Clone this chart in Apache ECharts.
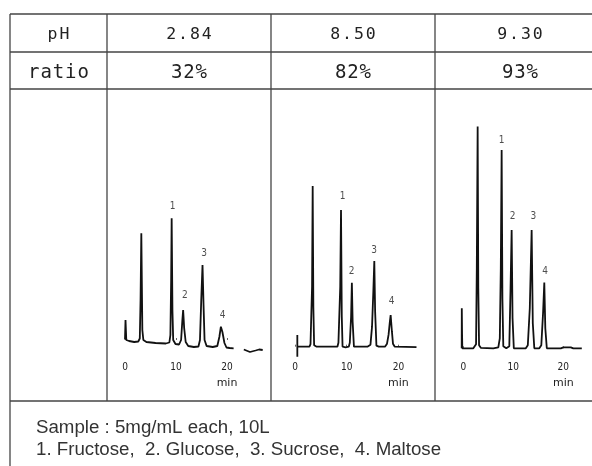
<!DOCTYPE html>
<html>
<head>
<meta charset="utf-8">
<script src="https://cdn.jsdelivr.net/npm/echarts@6/dist/echarts.min.js"></script>
<style>
html, body { margin: 0; background: #fff; }
#wrap { position: relative; width: 592px; height: 466px; overflow: hidden; }
#main { position: absolute; left: 0; top: 0; width: 592px; height: 466px; }
.cell { position: absolute; text-align: center; white-space: nowrap; color: #222;
        font-family: "DejaVu Sans Mono", monospace; }
</style>
</head>
<body>
<div id="wrap"><div id="main"></div></div>
<script>
// table texts
var rowLabels = ['pH', 'ratio'];
var phValues = ['2.84', '8.50', '9.30'];
var ratioValues = ['32%', '82%', '93%'];
var sampleLines = ['Sample : 5mg/mL each, 10L', '1. Fructose,  2. Glucose,  3. Sucrose,  4. Maltose'];
var tickValues = [0, 10, 20];

// chromatogram traces, [time (min), signal]
var trace1 = [
    [0, 0.5], [0.1, 20], [0.25, 0], [0.8, -1], [1.8, -2], [2.6, -1.5], [2.9, 1.5], [3.05, 40],
    [3.2, 106.7], [3.4, 10], [3.6, 0], [4.2, -2], [6, -3], [8, -3.5], [8.7, -2.5], [8.9, 5],
    [9.05, 60], [9.15, 121.7], [9.3, 30], [9.45, 0], [9.9, -4], [10.6, -4.5], [11.0, 0], [11.25, 20],
    [11.4, 30], [11.6, 12], [11.9, -2], [12.4, -6], [13.5, -7], [14.4, -6.5], [14.7, 0], [14.95, 40],
    [15.2, 75], [15.4, 35], [15.6, 0], [16, -6], [17.2, -7], [18.1, -6], [18.5, 3], [18.8, 13.3],
    [19.1, 8], [19.5, -3], [19.9, -7.5], [20.5, -8], [21.3, -8.3], [21.7, '-'],
    [23.3, -9.5], [24.5, -12], [25.6, -10.5], [26.3, -9.5], [27, -10]
];
var trace2 = [
    [0.45, -10], [0.45, 11.7], [0.45, 0], [2.8, 0], [3.0, 2.5], [3.2, 2], [3.3, 60], [3.42, 160.7],
    [3.55, 40], [3.7, 1.5], [4.2, 0], [7, 0], [8.2, 0], [8.4, 4], [8.6, 5], [8.75, 60], [8.9, 136.7],
    [9.05, 30], [9.2, 0], [9.8, -0.7], [10.4, 0], [10.6, 4], [10.85, 30], [11.0, 64], [11.15, 25],
    [11.4, 0], [12, 0], [14, 0], [14.6, 2], [14.9, 20], [15.15, 55], [15.34, 85.7], [15.5, 35],
    [15.75, 1], [16.2, 0], [17.4, 0], [17.8, 3], [18.1, 12], [18.35, 25], [18.5, 31.7], [18.75, 15],
    [18.95, 3], [19.3, 0], [23.5, -0.5]
];
var trace3 = [
    [-0.32, 0], [-0.3, 40], [-0.25, 15], [-0.2, 0], [2.0, 0], [2.4, 1], [2.55, 4], [2.7, 80],
    [2.87, 221.7], [3.0, 60], [3.15, 3], [3.5, 0.5], [6.0, 0], [7.0, 1], [7.3, 10], [7.5, 80],
    [7.67, 198.3], [7.82, 50], [8.0, 2], [8.6, 0], [9.2, 2], [9.45, 60], [9.67, 118.3], [9.85, 30],
    [10.1, 0], [12.5, 0], [12.9, 3], [13.3, 40], [13.67, 118.3], [13.9, 25], [14.2, 0], [15.2, 0],
    [15.6, 3], [15.95, 35], [16.2, 65.7], [16.4, 20], [16.7, 0], [19.5, 0], [20, 1], [21.5, 1],
    [22, 0], [23.7, 0]
];

// peak numbers, [time, signal, label]
var peakLabels1 = [[9.35, 133.3, '1'], [11.76, 45, '2'], [15.5, 86.7, '3'], [19.15, 25, '4']];
var peakLabels2 = [[9.2, 150, '1'], [10.97, 75, '2'], [15.3, 96.7, '3'], [18.7, 45, '4']];
var peakLabels3 = [[7.68, 208.3, '1'], [9.88, 131.6, '2'], [14.0, 131.6, '3'], [16.34, 76.6, '4']];

// layout
var colX = [10, 107, 271, 435, 605];
var rowY = [14, 52, 89, 401];
var plotBottom = 358;
var yTop = 230;
var panels = [
    { trace: trace1, labels: peakLabels1, t0x: 125, pxPerMin: 5.1, xMin: -1, xMax: 28, baseY: 340 },
    { trace: trace2, labels: peakLabels2, t0x: 295, pxPerMin: 5.17, xMin: -1, xMax: 25, baseY: 346.7 },
    { trace: trace3, labels: peakLabels3, t0x: 463.3, pxPerMin: 5.0, xMin: -1, xMax: 24.5, baseY: 348.3 }
];

// header cells as html (needs letter spacing)
var wrap = document.getElementById('wrap');
function addCell(text, cx, cy, size, spacing) {
    var d = document.createElement('div');
    d.className = 'cell';
    d.textContent = text;
    d.style.left = (cx - 70) + 'px';
    d.style.width = '140px';
    d.style.top = (cy - 15) + 'px';
    d.style.height = '30px';
    d.style.lineHeight = '30px';
    d.style.fontSize = size + 'px';
    d.style.letterSpacing = spacing + 'px';
    d.style.paddingLeft = spacing + 'px';
    d.style.boxSizing = 'border-box';
    wrap.appendChild(d);
}
var rowCentres = [(rowY[0] + rowY[1]) / 2 + 1, (rowY[1] + rowY[2]) / 2];
var rows = [[rowLabels[0]].concat(phValues), [rowLabels[1]].concat(ratioValues)];
rows.forEach(function (row, r) {
    row.forEach(function (txt, c) {
        var cx = (colX[c] + colX[c + 1]) / 2;
        if (r === 0) addCell(txt, cx, rowCentres[r], 16.5, 1.9);
        else addCell(txt, cx, rowCentres[r], 19, 0.9);
    });
});

// table rules
var lineStyle = { stroke: '#444', lineWidth: 1.3 };
var elements = [];
rowY.forEach(function (y) {
    elements.push({ type: 'line', silent: true, shape: { x1: colX[0], y1: y, x2: 592, y2: y }, style: lineStyle });
});
elements.push({ type: 'line', silent: true, shape: { x1: colX[0], y1: rowY[0], x2: colX[0], y2: 466 }, style: lineStyle });
for (var i = 1; i < 4; i++) {
    elements.push({ type: 'line', silent: true, shape: { x1: colX[i], y1: rowY[0], x2: colX[i], y2: rowY[3] }, style: lineStyle });
}
sampleLines.forEach(function (txt, i) {
    elements.push({
        type: 'text', silent: true, x: 36, y: 428 + i * 22,
        style: { text: txt, font: '18.7px "Liberation Sans", Arial, sans-serif', fill: '#333',
                 verticalAlign: 'middle', textVerticalAlign: 'middle' }
    });
});

var grids = [], xAxes = [], yAxes = [], series = [];
panels.forEach(function (p, i) {
    var top = p.baseY - yTop;
    grids.push({
        left: p.t0x + p.xMin * p.pxPerMin,
        width: (p.xMax - p.xMin) * p.pxPerMin,
        top: top,
        height: plotBottom - top
    });
    xAxes.push({
        type: 'value', gridIndex: i, min: p.xMin, max: p.xMax,
        axisLine: { show: false },
        splitLine: { show: false },
        axisTick: { show: true, inside: true, length: 2, customValues: tickValues,
                    lineStyle: { color: '#666', width: 1 } },
        axisLabel: {
            customValues: tickValues, margin: 1, fontSize: 10, lineHeight: 16, color: '#222',
            fontFamily: '"DejaVu Sans Condensed", "DejaVu Sans", sans-serif',
            formatter: function (v) { return v === 20 ? '20\n{u|min}' : String(v); },
            rich: { u: { fontSize: 11, lineHeight: 16, color: '#222',
                         fontFamily: '"DejaVu Sans", sans-serif' } }
        }
    });
    yAxes.push({ type: 'value', gridIndex: i, min: p.baseY - plotBottom, max: yTop, show: false });
    series.push({
        type: 'line', xAxisIndex: i, yAxisIndex: i, data: p.trace, symbol: 'none',
        lineStyle: { color: '#111', width: 1.8 }, silent: true
    });
    series.push({
        type: 'scatter', xAxisIndex: i, yAxisIndex: i, data: p.labels, symbolSize: 1,
        itemStyle: { color: 'rgba(0,0,0,0)' }, silent: true,
        label: { show: true, position: 'inside', fontSize: 10, color: '#222',
                 fontFamily: '"DejaVu Sans Condensed", "DejaVu Sans", sans-serif',
                 formatter: function (q) { return q.value[2]; } }
    });
});

var chart = echarts.init(document.getElementById('main'));
chart.setOption({
    animation: false,
    backgroundColor: '#fff',
    grid: grids,
    xAxis: xAxes,
    yAxis: yAxes,
    series: series,
    graphic: { elements: elements }
});
</script>
</body>
</html>
